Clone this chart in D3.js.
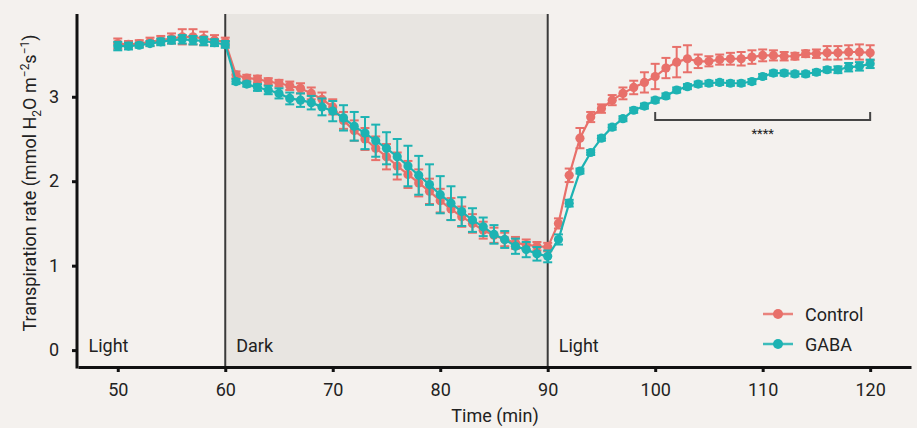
<!DOCTYPE html>
<html>
<head>
<meta charset="utf-8">
<script src="https://cdn.jsdelivr.net/npm/d3@7"></script>
<style>
  body { margin: 0; background: #f4f1ee; }
  svg { display: block; font-family: Roboto, "Noto Sans", sans-serif; }
  .axis path, .axis line { stroke: #111; stroke-width: 3px; }
  .axis text { font-size: 18px; fill: #222; font-family: Roboto, sans-serif; }
</style>
</head>
<body>
<svg id="chart" width="917" height="428"></svg>
<script>
// time points (min)
const time = [50,51,52,53,54,55,56,57,58,59,60,
  61,62,63,64,65,66,67,68,69,70,71,72,73,74,75,76,77,78,79,80,
  81,82,83,84,85,86,87,88,89,90,91,92,93,94,95,96,97,98,99,100,
  101,102,103,104,105,106,107,108,109,110,111,112,113,114,115,116,117,118,119,120];

// transpiration rate, Control
const control = [3.63,3.62,3.63,3.65,3.67,3.69,3.71,3.71,3.69,3.67,3.65,
  3.26,3.22,3.21,3.18,3.16,3.13,3.10,3.04,2.97,2.88,2.72,2.60,2.50,2.39,2.29,2.18,2.08,1.98,1.88,1.77,
  1.67,1.58,1.50,1.42,1.36,1.31,1.27,1.25,1.23,1.22,1.50,2.07,2.51,2.76,2.86,2.96,3.04,3.11,3.17,3.24,
  3.34,3.41,3.45,3.42,3.42,3.44,3.45,3.45,3.47,3.49,3.49,3.48,3.48,3.51,3.51,3.52,3.52,3.53,3.53,3.52];
const controlErr = [0.06,0.04,0.04,0.05,0.05,0.06,0.09,0.09,0.08,0.06,0.05,
  0.04,0.04,0.04,0.04,0.04,0.05,0.06,0.07,0.08,0.09,0.10,0.12,0.13,0.14,0.15,0.16,0.16,0.16,0.15,0.14,
  0.13,0.12,0.11,0.10,0.09,0.08,0.07,0.06,0.05,0.05,0.06,0.08,0.12,0.06,0.05,0.06,0.07,0.08,0.12,0.15,
  0.12,0.18,0.16,0.08,0.06,0.06,0.07,0.08,0.08,0.07,0.06,0.05,0.04,0.04,0.05,0.08,0.08,0.08,0.09,0.09];

// transpiration rate, GABA
const gaba = [3.60,3.60,3.61,3.63,3.65,3.67,3.68,3.67,3.66,3.64,3.62,
  3.18,3.15,3.11,3.08,3.04,2.98,2.96,2.93,2.88,2.83,2.75,2.65,2.57,2.48,2.39,2.29,2.18,2.07,1.96,1.84,
  1.74,1.64,1.54,1.46,1.37,1.31,1.23,1.19,1.14,1.11,1.31,1.74,2.12,2.34,2.51,2.64,2.74,2.84,2.89,2.96,
  3.01,3.08,3.12,3.15,3.16,3.17,3.16,3.16,3.18,3.24,3.28,3.28,3.27,3.27,3.29,3.32,3.32,3.35,3.36,3.39];
const gabaErr = [0.05,0.04,0.03,0.03,0.04,0.04,0.05,0.05,0.05,0.04,0.04,
  0.03,0.03,0.04,0.05,0.06,0.07,0.08,0.08,0.10,0.12,0.15,0.17,0.19,0.19,0.19,0.21,0.24,0.23,0.24,0.22,
  0.20,0.17,0.14,0.11,0.11,0.10,0.09,0.09,0.08,0.07,0.06,0.04,0.03,0.03,0.03,0.03,0.03,0.03,0.03,0.03,
  0.03,0.03,0.03,0.03,0.03,0.03,0.03,0.03,0.03,0.03,0.03,0.03,0.03,0.03,0.03,0.03,0.04,0.05,0.05,0.05];

const xTicks = [50,60,70,80,90,100,110,120];
const yTicks = [0,1,2,3];
const phases = [{from: 46.3, label: "Light"}, {from: 60, label: "Dark"}, {from: 90, label: "Light"}];

const svg = d3.select("#chart");

const x = d3.scaleLinear().domain([46.3, 123.8]).range([78, 911]);
const y = d3.scaleLinear().domain([-0.2, 3.98]).range([367, 14]);

// dark period shading
svg.append("rect")
  .attr("x", x(60)).attr("y", y.range()[1])
  .attr("width", x(90) - x(60)).attr("height", y.range()[0] - y.range()[1])
  .attr("fill", "#e8e5e1");

svg.selectAll(".divider").data([60, 90]).enter()
  .append("line")
  .attr("x1", d => x(d)).attr("x2", d => x(d))
  .attr("y1", y.range()[1]).attr("y2", y.range()[0])
  .attr("stroke", "#3a3a3a").attr("stroke-width", 2);

svg.selectAll(".phase").data(phases).enter()
  .append("text")
  .attr("x", (d, i) => x(d.from) + (i == 0 ? 10.5 : 11))
  .attr("y", 352)
  .style("font-size", "18px").style("fill", "#222")
  .text(d => d.label);

// axes
const xAxis = svg.append("g").attr("class", "axis")
  .attr("transform", "translate(0,367)")
  .call(d3.axisBottom(x).tickValues(xTicks).tickSize(5).tickSizeOuter(0).tickPadding(11));
const yAxis = svg.append("g").attr("class", "axis")
  .attr("transform", "translate(77,0)")
  .call(d3.axisLeft(y).tickValues(yTicks).tickFormat(d3.format("d"))
    .tickSize(5).tickSizeOuter(0).tickPadding(13));
yAxis.select(".domain").attr("d", `M0,${y.range()[1]}V${y.range()[0] + 1.5}`);

svg.append("text")
  .attr("transform", "translate(36,183) rotate(-90)")
  .attr("text-anchor", "middle")
  .style("font-size", "18px").style("fill", "#222")
  .html('Transpiration rate (mmol H<tspan dy="5" font-size="12">2</tspan><tspan dy="-5">O m</tspan><tspan dy="-7" font-size="12">\u22122</tspan><tspan dy="7">s</tspan><tspan dy="-7" font-size="12">\u22121</tspan><tspan dy="7">)</tspan>');

svg.append("text")
  .attr("x", 495).attr("y", 422)
  .attr("text-anchor", "middle")
  .style("font-size", "18px").style("fill", "#222")
  .text("Time (min)");

// series
const series = [
  {name: "Control", values: control, err: controlErr, color: "#e8706a"},
  {name: "GABA", values: gaba, err: gabaErr, color: "#1db3b3"}
];

const line = d3.line().x(d => x(d.t)).y(d => y(d.v));

series.forEach(s => {
  const pts = time.map((t, i) => ({t: t, v: s.values[i], e: s.err[i]}));
  const g = svg.append("g");
  g.append("path")
    .datum(pts)
    .attr("d", line)
    .attr("fill", "none")
    .attr("stroke", s.color)
    .attr("stroke-width", 2.2);
  const bars = g.selectAll(".bar").data(pts).enter().append("g")
    .attr("stroke", s.color).attr("stroke-width", 2);
  bars.append("line")
    .attr("x1", d => x(d.t)).attr("x2", d => x(d.t))
    .attr("y1", d => y(d.v - d.e)).attr("y2", d => y(d.v + d.e));
  bars.append("line")
    .attr("x1", d => x(d.t) - 4.5).attr("x2", d => x(d.t) + 4.5)
    .attr("y1", d => y(d.v - d.e)).attr("y2", d => y(d.v - d.e));
  bars.append("line")
    .attr("x1", d => x(d.t) - 4.5).attr("x2", d => x(d.t) + 4.5)
    .attr("y1", d => y(d.v + d.e)).attr("y2", d => y(d.v + d.e));
  g.selectAll("circle").data(pts).enter().append("circle")
    .attr("cx", d => x(d.t)).attr("cy", d => y(d.v))
    .attr("r", 4.6)
    .attr("fill", s.color);
});

// significance bracket
svg.append("path")
  .attr("d", `M${x(100)},112V120H${x(120)}V112`)
  .attr("fill", "none").attr("stroke", "#444").attr("stroke-width", 2);
svg.append("text")
  .attr("x", (x(100) + x(120)) / 2).attr("y", 138)
  .attr("text-anchor", "middle")
  .style("font-size", "13px").style("fill", "#222")
  .text("****");

// legend
const legend = svg.selectAll(".legend").data(series).enter().append("g")
  .attr("transform", (d, i) => `translate(763,${314 + i * 30})`);
legend.append("line")
  .attr("x1", 0).attr("x2", 30)
  .attr("stroke", d => d.color).attr("stroke-width", 2.5).attr("opacity", 0.85);
legend.append("circle")
  .attr("cx", 15).attr("r", 5)
  .attr("fill", d => d.color);
legend.append("text")
  .attr("x", 42).attr("y", 7)
  .style("font-size", "18px").style("fill", "#222")
  .text(d => d.name);
</script>
</body>
</html>
